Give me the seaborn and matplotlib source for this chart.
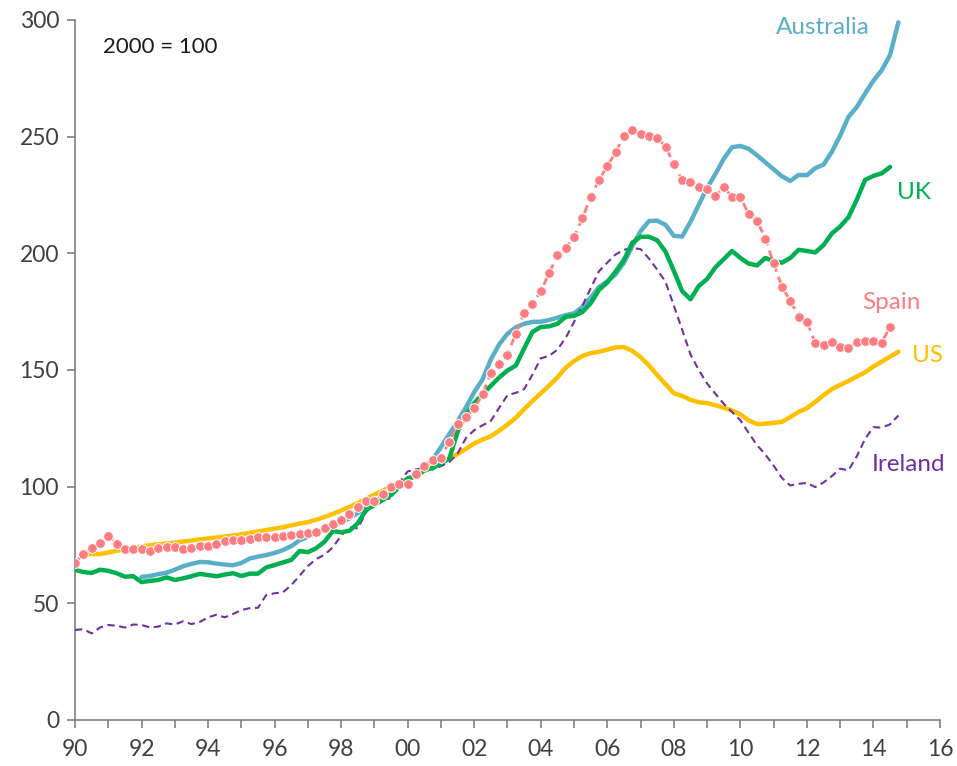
import numpy as np
import pandas as pd
import seaborn as sns
from matplotlib import pyplot as plt
from matplotlib.ticker import MultipleLocator

# quarterly house price indices, 2000 = 100 (index 0 = 1990 Q1)
start_year = 1990

australia = [61.3, 61.7, 62.5, 63.1, 64.4, 65.9, 66.9, 67.7, 67.6, 67.0,
             66.6, 66.3, 67.3, 69.2, 70.0, 70.7, 71.6, 72.8, 74.5, 77.0,
             78.5, 80.0, 81.5, 83.0, 84.5, 86.5, 88.7, 91.0, 93.5, 96.0,
             98.5, 101.0, 102.0, 106.0, 108.5, 111.5, 117.0, 122.5, 128.0, 134.0,
             140.5, 146.0, 154.5, 161.0, 165.5, 168.3, 169.8, 170.6, 170.7, 171.4,
             172.4, 173.5, 174.3, 177.0, 181.0, 185.5, 188.0, 191.0, 196.0, 203.0,
             209.5, 213.8, 214.0, 212.2, 207.5, 207.2, 213.5, 220.8, 228.0, 234.0,
             240.5, 245.5, 246.0, 244.8, 242.0, 239.0, 236.0, 233.0, 231.0, 233.6,
             233.5, 236.5, 238.0, 243.5, 250.5, 258.5, 262.7, 268.5, 274.0, 278.5,
             285.0, 299.0]
australia_start = 8

uk = [64.3, 63.4, 63.0, 64.4, 63.9, 62.9, 61.4, 61.6, 59.1, 59.6,
      60.0, 61.1, 60.0, 60.7, 61.6, 62.6, 62.1, 61.6, 62.3, 62.9,
      61.7, 62.7, 62.7, 65.4, 66.4, 67.5, 68.6, 72.4, 71.9, 73.6,
      76.4, 81.0, 80.4, 81.1, 84.3, 90.0, 92.1, 94.3, 96.4, 100.0,
      103.6, 104.3, 107.1, 107.9, 110.0, 112.0, 123.5, 130.8, 135.8, 139.6,
      143.2, 146.8, 149.8, 151.9, 159.2, 166.3, 168.4, 168.7, 169.8, 172.8,
      173.2, 174.8, 178.6, 184.3, 187.5, 192.2, 197.2, 204.5, 207.1, 207.1,
      205.6, 200.7, 192.5, 183.8, 180.3, 186.0, 189.0, 194.0, 197.5, 201.0,
      198.0, 195.6, 194.8, 198.0, 196.7, 196.0, 198.0, 201.5, 201.0, 200.4,
      203.5, 208.5, 211.5, 215.5, 223.0, 231.5, 233.2, 234.3, 237.0]
uk_start = 0

spain = [67.4, 71.0, 73.8, 75.7, 79.0, 75.6, 73.4, 73.4, 73.1, 72.6,
         73.6, 74.1, 74.3, 73.4, 73.7, 74.6, 74.4, 75.6, 76.6, 77.1,
         77.3, 77.7, 78.3, 78.3, 78.4, 78.7, 79.3, 79.7, 80.3, 80.6,
         82.4, 84.0, 85.7, 88.3, 91.3, 93.9, 94.0, 97.0, 99.7, 101.0,
         101.3, 105.3, 108.9, 111.4, 112.4, 119.3, 126.7, 129.7, 133.5, 139.6,
         148.6, 152.4, 156.6, 165.6, 174.6, 178.4, 183.7, 191.4, 199.1, 202.4,
         207.1, 215.0, 224.1, 231.4, 237.4, 243.3, 250.3, 252.9, 251.1, 250.1,
         249.6, 245.7, 238.2, 231.4, 230.4, 228.6, 227.4, 224.6, 228.3, 224.3,
         224.3, 216.7, 214.0, 206.3, 195.7, 185.7, 179.7, 172.9, 170.6, 161.7,
         160.7, 162.1, 159.9, 159.3, 162.1, 162.6, 162.6, 161.7, 168.6]
spain_start = 0

us = [71.1, 71.1, 71.1, 71.8, 72.5, 73.2, 73.8, 74.4, 74.9, 75.3,
      75.6, 76.0, 76.5, 76.9, 77.4, 77.8, 78.2, 78.6, 79.1, 79.6,
      80.2, 80.8, 81.4, 82.0, 82.6, 83.4, 84.2, 84.8, 85.8, 87.0,
      88.3, 89.8, 91.3, 93.0, 94.8, 96.6, 98.3, 100.2, 101.7, 103.2,
      104.8, 106.7, 108.5, 110.3, 112.0, 114.0, 116.2, 118.5, 120.2, 121.6,
      124.0, 126.6, 129.5, 133.2, 136.7, 140.0, 143.3, 146.8, 151.0, 153.8,
      156.0, 157.2, 157.8, 158.7, 159.7, 159.8, 158.2, 155.5, 152.0, 147.8,
      144.0, 140.0, 138.9, 137.2, 136.2, 135.8, 134.9, 133.8, 132.6, 131.0,
      128.4, 126.8, 127.0, 127.3, 127.8, 129.8, 132.0, 133.6, 136.3, 139.2,
      141.8, 143.6, 145.3, 147.2, 149.0, 151.5, 153.6, 155.7, 157.8]
us_start = 1

ireland = [38.6, 38.9, 37.1, 39.6, 40.7, 40.4, 39.6, 40.9, 40.7, 39.7,
           40.0, 41.4, 40.9, 42.3, 41.1, 42.0, 44.0, 45.1, 44.0, 45.4,
           47.1, 47.9, 48.1, 53.6, 54.3, 54.7, 57.8, 61.8, 66.0, 69.0,
           70.8, 74.0, 79.0, 82.8, 82.1, 89.0, 93.2, 94.5, 95.0, 102.0,
           106.5, 107.4, 107.9, 107.4, 108.8, 110.5, 114.2, 120.8, 124.2, 126.3,
           128.2, 133.8, 139.2, 140.2, 141.8, 148.0, 155.0, 156.0, 158.7, 163.8,
           170.6, 177.5, 185.0, 192.3, 196.0, 199.5, 201.5, 202.3, 201.8, 197.8,
           193.0, 187.8, 177.6, 167.3, 156.7, 150.0, 144.2, 139.8, 135.5, 132.0,
           128.5, 123.0, 117.8, 113.8, 109.0, 103.7, 100.5, 101.2, 101.6, 99.8,
           101.8, 104.5, 107.7, 107.0, 113.0, 120.5, 125.5, 125.3, 126.7, 130.5]
ireland_start = 0

x_ticks = [1990, 1992, 1994, 1996, 1998, 2000, 2002, 2004, 2006, 2008, 2010, 2012, 2014, 2016]
x_labels = ['90', '92', '94', '96', '98', '00', '02', '04', '06', '08', '10', '12', '14', '16']
y_ticks = [0, 50, 100, 150, 200, 250, 300]


def series(values, first_q):
    q = np.arange(first_q, first_q + len(values))
    return pd.DataFrame({'Date': start_year + q / 4.0, 'Index': values})


sns.set_theme(style='white')
plt.rcParams['font.family'] = ['Lato', 'DejaVu Sans']

fig = plt.figure(figsize=(9.57, 7.66), dpi=100)
ax = fig.add_axes([0.0784, 0.0601, 0.9038, 0.9138])

c_aus = '#5AAFC8'
c_uk = '#00B050'
c_spain = '#FF7C80'
c_us = '#FFC000'
c_ire = '#7030A0'

sns.lineplot(data=series(us, us_start), x='Date', y='Index', ax=ax,
             color=c_us, linewidth=3.2, zorder=3)
sns.lineplot(data=series(ireland, ireland_start), x='Date', y='Index', ax=ax,
             color=c_ire, linewidth=1.5, linestyle=(0, (3.5, 2.2)), zorder=4)
sns.lineplot(data=series(uk, uk_start), x='Date', y='Index', ax=ax,
             color=c_uk, linewidth=3.2, zorder=5)
sns.lineplot(data=series(australia, australia_start), x='Date', y='Index', ax=ax,
             color=c_aus, linewidth=3.2, zorder=3)
sns.lineplot(data=series(spain, spain_start), x='Date', y='Index', ax=ax,
             color=c_spain, linewidth=2, linestyle=(0, (3, 2)), marker='o',
             markersize=7, markeredgecolor='white', markeredgewidth=0.7, zorder=6)

ax.set_xlim(1990, 2016)
ax.set_ylim(0, 300)
ax.set_xticks(x_ticks)
ax.set_xticklabels(x_labels)
ax.xaxis.set_minor_locator(MultipleLocator(1))
ax.set_yticks(y_ticks)
ax.set_xlabel('')
ax.set_ylabel('')

for s in ['top', 'right']:
    ax.spines[s].set_visible(False)
for s in ['left', 'bottom']:
    ax.spines[s].set_color('#7f7f7f')
    ax.spines[s].set_linewidth(1.2)

ax.tick_params(axis='both', which='both', direction='out', length=5.5, width=1.2,
               color='#7f7f7f', labelsize=16.5, labelcolor='#404040', bottom=True, left=True)
ax.tick_params(axis='x', pad=8)
ax.tick_params(axis='y', pad=6)

ax.text(1990.84, 288.4, '2000 = 100', fontsize=16, color='#1a1a1a', va='center')
ax.text(2011.07, 296.6, 'Australia', fontsize=17.5, color=c_aus, va='center')
ax.text(2014.71, 225.9, 'UK', fontsize=17.5, color=c_uk, va='center')
ax.text(2013.65, 179.1, 'Spain', fontsize=17.5, color=c_spain, va='center')
ax.text(2015.16, 156.0, 'US', fontsize=17.5, color=c_us, va='center')
ax.text(2013.96, 109.7, 'Ireland', fontsize=17.5, color=c_ire, va='center')

fig.savefig('out.png', dpi=100)
